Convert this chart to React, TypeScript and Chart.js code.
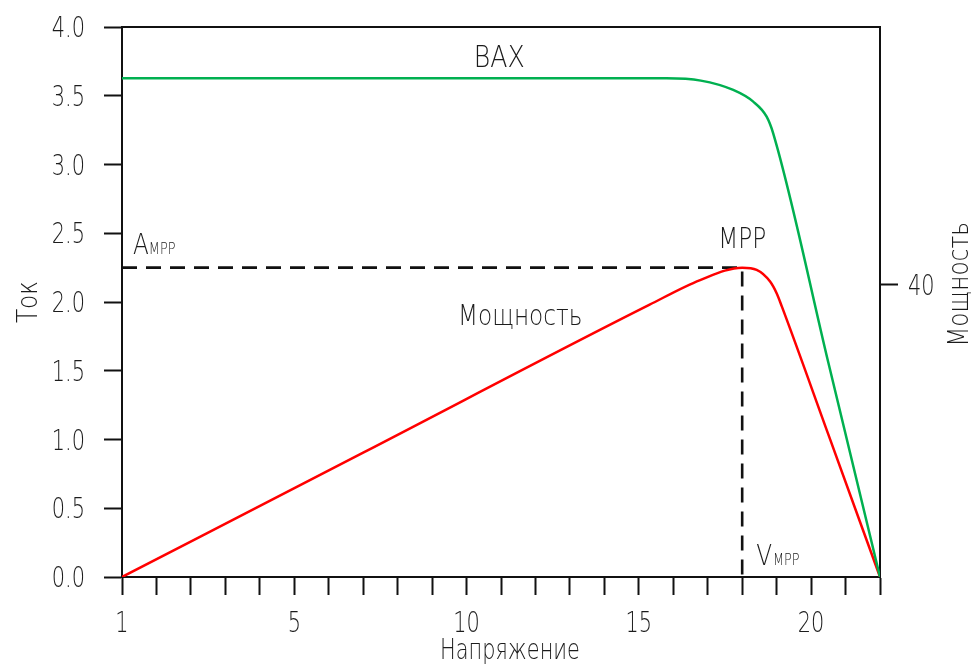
import React, { useEffect, useRef } from 'react';
import { Chart, registerables } from 'chart.js';

Chart.register(...registerables);

// ---- Data ----
// Voltage axis runs 0..22 (first tick labelled "1" as in the original)
const xTickLabels: Record<number, string> = { 0: '1', 5: '5', 10: '10', 15: '15', 20: '20' };
const yTickLabels = ['0.0', '0.5', '1.0', '1.5', '2.0', '2.5', '3.0', '3.5', '4.0'];

// I-V curve (ВАХ), current in A
const ivVoltage = [0, 8, 15.8, 16.8, 17.74, 18.32, 18.71, 18.9, 20.5, 22];
const ivCurrent = [3.627, 3.627, 3.627, 3.61, 3.542, 3.457, 3.348, 3.227, 1.56, 0];

// Power curve (Мощность), in W (right axis)
const powerVoltage = [0, 7, 15.3, 16.78, 18.0, 18.42, 18.81, 19.0, 19.15, 20.5, 22];
const powerValue = [0, 17.0, 37.2, 40.6, 42.3, 42.0, 40.4, 38.8, 37.0, 19.5, 0];

// Maximum power point
const mppVoltage = 18;
const mppCurrent = 2.25;

const powerAxisMax = 75.2;
const powerTicks = [40];

const FAMILY = '"DejaVu Sans", sans-serif';
const WEIGHT = '200';
const TEXT = '#1c1c1c';

function drawText(
  ctx: CanvasRenderingContext2D,
  text: string,
  x: number,
  y: number,
  size: number,
  align: CanvasTextAlign,
  sx = 0.72,
  rotate = 0
) {
  ctx.save();
  ctx.translate(x, y);
  if (rotate) ctx.rotate(rotate);
  ctx.scale(sx, 1);
  ctx.font = `${WEIGHT} ${size}px ${FAMILY}`;
  ctx.textAlign = align;
  ctx.textBaseline = 'alphabetic';
  ctx.fillStyle = TEXT;
  ctx.fillText(text, 0, 0);
  const w = ctx.measureText(text).width * sx;
  ctx.restore();
  return w;
}

const annotationPlugin = {
  id: 'annotations',
  afterDraw(chart: any) {
    const { ctx, chartArea, scales } = chart;
    const xs = scales.x;
    const ys = scales.y;
    const y2 = scales.y2;
    ctx.save();
    // top frame line
    ctx.strokeStyle = '#111';
    ctx.lineWidth = 2;
    ctx.beginPath();
    ctx.moveTo(chartArea.left - 1, chartArea.top);
    ctx.lineTo(chartArea.right + 1, chartArea.top);
    ctx.stroke();
    ctx.restore();

    const S = 29;
    const s = 16;
    const W = 0.8;

    // tick labels
    xs.ticks.forEach((t: any) => {
      const lab = xTickLabels[t.value];
      if (lab) drawText(ctx, lab, xs.getPixelForValue(t.value), chartArea.bottom + 55, S, 'center');
    });
    ys.ticks.forEach((t: any, i: number) => {
      drawText(ctx, yTickLabels[i], chartArea.left - 37, ys.getPixelForValue(t.value) + 10, S, 'right');
    });
    y2.ticks.forEach((t: any) => {
      drawText(ctx, String(t.value), chartArea.right + 28, y2.getPixelForValue(t.value) + 11, S, 'left');
    });

    // ВАХ
    drawText(ctx, 'ВАХ', xs.getPixelForValue(10.95), ys.getPixelForValue(ivCurrent[0]) - 11, S + 1, 'center', 0.84);

    // Мощность (curve label)
    drawText(ctx, 'Мощность', xs.getPixelForValue(9.75), ys.getPixelForValue(1.833), S, 'left', W);

    // MPP
    const mx = xs.getPixelForValue(mppVoltage);
    const my = ys.getPixelForValue(mppCurrent);
    drawText(ctx, 'MPP', mx, my - 20, S, 'center', W);

    // A_MPP
    const ax = chartArea.left + 11;
    const aw = drawText(ctx, 'A', ax, my - 14, S, 'left', W);
    drawText(ctx, 'MPP', ax + aw, my - 14, s, 'left', W);

    // V_MPP
    const vx = mx + 14;
    const vy = chartArea.bottom - 12;
    const vw = drawText(ctx, 'V', vx, vy, S, 'left', W);
    drawText(ctx, 'MPP', vx + vw + 1, vy, s, 'left', W);

    // Axis titles
    drawText(ctx, 'Напряжение', (chartArea.left + chartArea.right) / 2 + 9, chart.height - 5, S, 'center', 0.72);
    drawText(ctx, 'Ток', 37, (chartArea.top + chartArea.bottom) / 2, S, 'center', W, -Math.PI / 2);
    drawText(ctx, 'Мощность', chart.width - 3, y2.getPixelForValue(powerTicks[0]), S, 'center', W, -Math.PI / 2);
  },
};

export default function App() {
  const ref = useRef<HTMLCanvasElement | null>(null);

  useEffect(() => {
    if (!ref.current) return;
    const gridCfg = {
      drawOnChartArea: false,
      tickLength: 18,
      tickColor: '#111',
      tickWidth: 2,
    };
    const chart = new Chart(ref.current, {
      type: 'line',
      data: {
        datasets: [
          {
            label: 'ВАХ',
            data: ivVoltage.map((v, i) => ({ x: v, y: ivCurrent[i] })),
            borderColor: '#00b050',
            borderWidth: 2.5,
            pointRadius: 0,
            cubicInterpolationMode: 'monotone',
            yAxisID: 'y',
          },
          {
            label: 'Мощность',
            data: powerVoltage.map((v, i) => ({ x: v, y: powerValue[i] })),
            borderColor: '#ff0000',
            borderWidth: 2.5,
            pointRadius: 0,
            cubicInterpolationMode: 'monotone',
            yAxisID: 'y2',
          },
          {
            label: 'MPP',
            data: [
              { x: 0, y: mppCurrent },
              { x: mppVoltage, y: mppCurrent },
              { x: mppVoltage, y: 0 },
            ],
            borderColor: '#111',
            borderWidth: 2.6,
            borderDash: [15, 9],
            pointRadius: 0,
            tension: 0,
            yAxisID: 'y',
          },
        ],
      },
      options: {
        responsive: false,
        animation: false,
        layout: { padding: { top: 27, left: 0, right: 0, bottom: 0 } },
        plugins: { legend: { display: false }, tooltip: { enabled: false } },
        scales: {
          x: {
            type: 'linear',
            min: 0,
            max: 22,
            afterBuildTicks: (sc: any) => {
              sc.ticks = Array.from({ length: 23 }, (_, i) => ({ value: i }));
            },
            afterFit: (sc: any) => {
              sc.height = 87;
            },
            ticks: { display: false },
            grid: gridCfg,
            border: { color: '#111', width: 2 },
          },
          y: {
            type: 'linear',
            min: 0,
            max: 4,
            afterBuildTicks: (sc: any) => {
              sc.ticks = yTickLabels.map((l) => ({ value: parseFloat(l) }));
            },
            afterFit: (sc: any) => {
              sc.width = 122;
            },
            ticks: { display: false },
            grid: gridCfg,
            border: { color: '#111', width: 2 },
          },
          y2: {
            type: 'linear',
            position: 'right',
            min: 0,
            max: powerAxisMax,
            afterBuildTicks: (sc: any) => {
              sc.ticks = powerTicks.map((v) => ({ value: v }));
            },
            afterFit: (sc: any) => {
              sc.width = 91;
            },
            ticks: { display: false },
            grid: gridCfg,
            border: { color: '#111', width: 2 },
          },
        },
      } as any,
      plugins: [annotationPlugin],
    });
    return () => chart.destroy();
  }, []);

  return (
    <div style={{ position: 'absolute', left: 0, top: 0, width: 971, height: 664, background: '#fff' }}>
      <canvas ref={ref} width={971} height={664} style={{ display: 'block', width: 971, height: 664 }} />
    </div>
  );
}
